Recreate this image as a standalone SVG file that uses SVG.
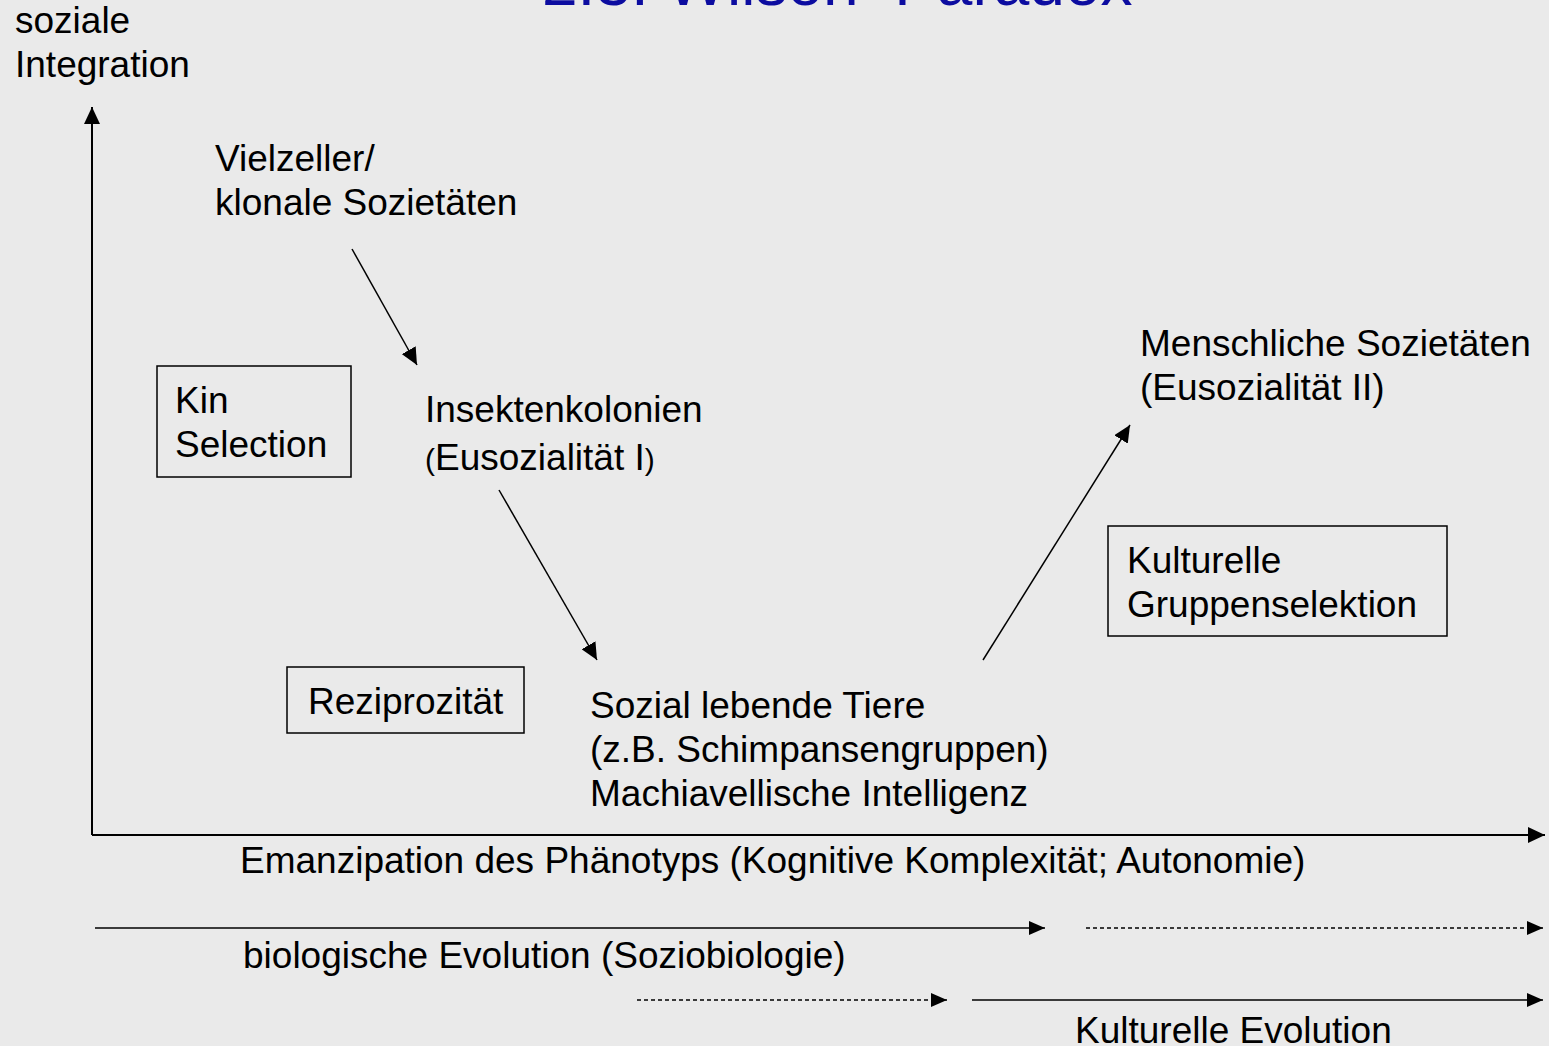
<svg xmlns="http://www.w3.org/2000/svg" width="1549" height="1046" viewBox="0 0 1549 1046">
<style>
text{font-family:"Liberation Sans",Arial,sans-serif;font-size:37px;fill:#000}
.title{font-size:64px;fill:#0c0ca0}
.box{fill:none;stroke:#000;stroke-width:1.5}
.ln{stroke:#000;stroke-width:2;fill:none}
.thin{stroke:#000;stroke-width:1.5;fill:none}
.dash{stroke:#000;stroke-width:1.5;fill:none;stroke-dasharray:4 3}
</style>
<defs>
<marker id="ah" markerUnits="userSpaceOnUse" markerWidth="18" markerHeight="16" viewBox="0 0 18 16" refX="17" refY="8" orient="auto">
<path d="M0,0 L17,8 L0,16 Z" fill="#000"/>
</marker>
<marker id="ahs" markerUnits="userSpaceOnUse" markerWidth="17" markerHeight="14" viewBox="0 0 17 14" refX="16" refY="7" orient="auto">
<path d="M0,0 L16,7 L0,14 Z" fill="#000"/>
</marker>
</defs>
<rect width="1549" height="1046" fill="#eaeaea"/>
<text class="title" x="542" y="5">2.3. Wilson–Paradox</text>

<g id="axis-y-label"><text x="15" y="33">soziale</text><text x="15" y="77">Integration</text></g>
<g id="vielzeller"><text x="215" y="171">Vielzeller/</text><text x="215" y="215">klonale Sozietäten</text></g>
<g id="kin-selection"><rect class="box" x="157" y="366" width="194" height="111"/><text x="175" y="413">Kin</text><text x="175" y="457">Selection</text></g>
<g id="insekten"><text x="425" y="422">Insektenkolonien</text><text x="425" y="470"><tspan font-size="30">(</tspan>Eusozialität I<tspan font-size="30">)</tspan></text></g>
<g id="reziprozitaet"><rect class="box" x="287" y="667" width="237" height="66"/><text x="308" y="714">Reziprozität</text></g>
<g id="sozial"><text x="590" y="718">Sozial lebende Tiere</text><text x="590" y="762">(z.B. Schimpansengruppen)</text><text x="590" y="806">Machiavellische Intelligenz</text></g>
<g id="menschlich"><text x="1140" y="356">Menschliche Sozietäten</text><text x="1140" y="400">(Eusozialität II)</text></g>
<g id="kulturelle-gruppenselektion"><rect class="box" x="1108" y="526" width="339" height="110"/><text x="1127" y="573">Kulturelle</text><text x="1127" y="617">Gruppenselektion</text></g>
<g id="axis-x-label"><text x="240" y="873">Emanzipation des Phänotyps (Kognitive Komplexität; Autonomie)</text></g>
<g id="bio-evo"><text x="243" y="968">biologische Evolution (Soziobiologie)</text></g>
<g id="kult-evo"><text x="1075" y="1043">Kulturelle Evolution</text></g>

<g id="connectors">
<line class="ln" x1="92" y1="835" x2="92" y2="107" marker-end="url(#ah)"/>
<line class="ln" x1="92" y1="835" x2="1545" y2="835" marker-end="url(#ah)"/>
<line class="thin" x1="352" y1="249" x2="417" y2="365" marker-end="url(#ah)"/>
<line class="thin" x1="499" y1="490" x2="597" y2="660" marker-end="url(#ah)"/>
<line class="thin" x1="983" y1="660" x2="1130" y2="425" marker-end="url(#ah)"/>
<line class="thin" x1="95" y1="928" x2="1045" y2="928" marker-end="url(#ahs)"/>
<line class="dash" x1="1086" y1="928" x2="1543" y2="928" marker-end="url(#ahs)"/>
<line class="dash" x1="637" y1="1000" x2="947" y2="1000" marker-end="url(#ahs)"/>
<line class="thin" x1="972" y1="1000" x2="1543" y2="1000" marker-end="url(#ahs)"/>
</g>
</svg>
